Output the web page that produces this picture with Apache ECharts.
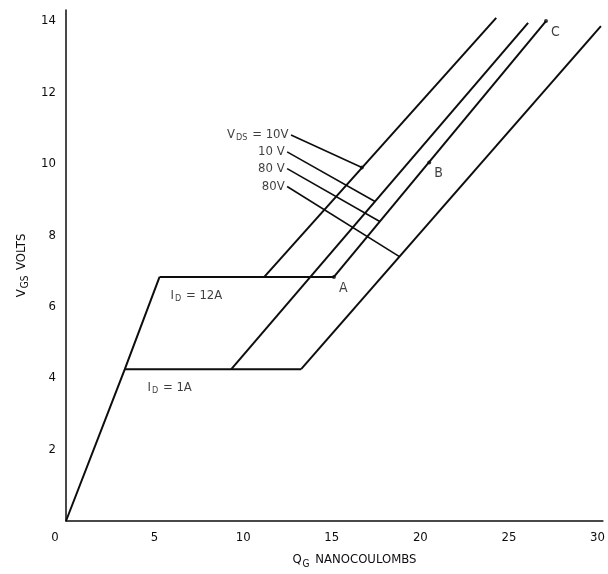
<!DOCTYPE html>
<html><head><meta charset="utf-8">
<script src="https://cdn.jsdelivr.net/npm/echarts@6/dist/echarts.min.js"></script>
<style>html,body{margin:0;padding:0;background:#fff}#c{width:608px;height:574px}</style>
</head><body><div id="c"></div>
<script>
// ---- data ----
const xTicks = [0, 5, 10, 15, 20, 25, 30];
const yTicks = [0, 2, 4, 6, 8, 10, 12, 14];
const riseCurve  = [[0, 0], [3.32, 4.25], [5.28, 6.83]];
const plateau12A = [[5.28, 6.83], [15.12, 6.83]];
const plateau1A  = [[3.32, 4.25], [13.27, 4.25]];
const line12A10V = [[11.19, 6.83], [24.28, 14.08]];
const line1A10V  = [[9.33, 4.25], [26.08, 13.94]];
const line12A80V = [[15.12, 6.83], [27.09, 13.99]];
const line1A80V  = [[13.27, 4.25], [30.19, 13.85]];
const letterPoints = [[15.12, 6.83], [20.5, 10.03], [27.09, 13.99]];
const letterTexts = ['A', 'B', 'C'];
const leaderDot = [[16.7, 9.89]];
const leaderStarts = [[12.70, 10.80], [12.48, 10.33], [12.48, 9.86], [12.48, 9.36]];
const leaderEnds   = [[16.7, 9.89], [17.44, 8.94], [17.71, 8.38], [18.82, 7.40]];
const leaderTexts = ['{v|V}{s|DS}{v| = 10V}', '10 V', '80 V', '80V'];
const currentAnchors = [[7.36, 6.31], [5.85, 3.74]];
const currentTexts = ['{v|I}{s|D}{v| = 12A}', '{v|I}{s|D}{v| = 1A}'];

const FONT = "'Liberation Sans Narrow','DejaVu Sans Condensed','Liberation Sans',sans-serif";
const INK = '#0d0d0d';
const rich = {
  v: {fontFamily: FONT, fontSize: 13, color: INK},
  s: {fontFamily: FONT, fontSize: 9, color: INK, verticalAlign: 'bottom', padding: [6, 1, 0, 1]}
};

function curve(d) {
  return {type: 'line', data: d, symbol: 'none', clip: false,
    lineStyle: {color: INK, width: 2}, silent: true};
}
const series = [riseCurve, plateau12A, plateau1A, line12A10V, line1A10V, line12A80V, line1A80V].map(curve);

leaderStarts.forEach((s, i) => {
  series.push({type: 'line', data: [s, leaderEnds[i]], symbol: 'none', clip: false,
    lineStyle: {color: INK, width: 1.6}, silent: true});
});
series.push({type: 'scatter', data: leaderStarts.map((p, i) => ({value: p, label: {formatter: leaderTexts[i]}})),
  symbolSize: 1, itemStyle: {color: 'rgba(0,0,0,0)'},
  label: {show: true, position: 'left', distance: 2, fontFamily: FONT, fontSize: 13, color: INK, rich: rich}});
series.push({type: 'scatter', data: letterPoints.map((p, i) => ({value: p, label: {formatter: letterTexts[i]}})),
  symbolSize: 4, itemStyle: {color: INK},
  label: {show: true, position: 'right', distance: 3, offset: [0, 11], fontFamily: FONT, fontSize: 14, color: INK}});
series.push({type: 'scatter', data: leaderDot, symbolSize: 4, itemStyle: {color: INK}});
series.push({type: 'scatter', data: currentAnchors.map((p, i) => ({value: p, label: {formatter: currentTexts[i]}})),
  symbolSize: 1, itemStyle: {color: 'rgba(0,0,0,0)'},
  label: {show: true, position: 'inside', rich: rich}});

const chart = echarts.init(document.getElementById('c'), null, {renderer: 'canvas'});
chart.setOption({
  animation: false,
  backgroundColor: '#fff',
  grid: {left: 66, right: 3, top: 10, bottom: 52, containLabel: false},
  xAxis: {
    type: 'value', min: 0, max: 30.3, interval: 5,
    axisLine: {lineStyle: {color: INK, width: 1.5}},
    axisTick: {show: false}, splitLine: {show: false},
    axisLabel: {margin: 10, fontFamily: FONT, fontSize: 13, color: INK,
      formatter: v => v === 0 ? '{z|0}' : (xTicks.includes(v) ? String(v) : ''),
      rich: {z: {fontFamily: FONT, fontSize: 13, color: INK, padding: [0, 22, 0, 0]}}},
    name: '{v|Q}{s|G}{v| NANOCOULOMBS}', nameLocation: 'middle', nameGap: 30,
    nameTextStyle: {padding: [0, 0, 0, 40],
      rich: {v: {fontFamily: FONT, fontSize: 13, color: INK},
             s: {fontFamily: FONT, fontSize: 10, color: INK, verticalAlign: 'bottom', padding: [8, 2, 0, 1]}}}
  },
  yAxis: {
    type: 'value', min: 0, max: 14.3, interval: 2,
    axisLine: {show: true, lineStyle: {color: INK, width: 1.5}},
    axisTick: {show: false}, splitLine: {show: false},
    axisLabel: {margin: 10, fontFamily: FONT, fontSize: 13, color: INK,
      formatter: v => yTicks.includes(v) && v !== 0 ? String(v) : ''},
    name: '{v|V}{s|GS}{v| VOLTS}', nameLocation: 'middle', nameGap: 34,
    nameTextStyle: {rich: {v: {fontFamily: FONT, fontSize: 13, color: INK},
             s: {fontFamily: FONT, fontSize: 10, color: INK, verticalAlign: 'bottom', padding: [8, 2, 0, 1]}}}
  },
  series: series
});
</script></body></html>
